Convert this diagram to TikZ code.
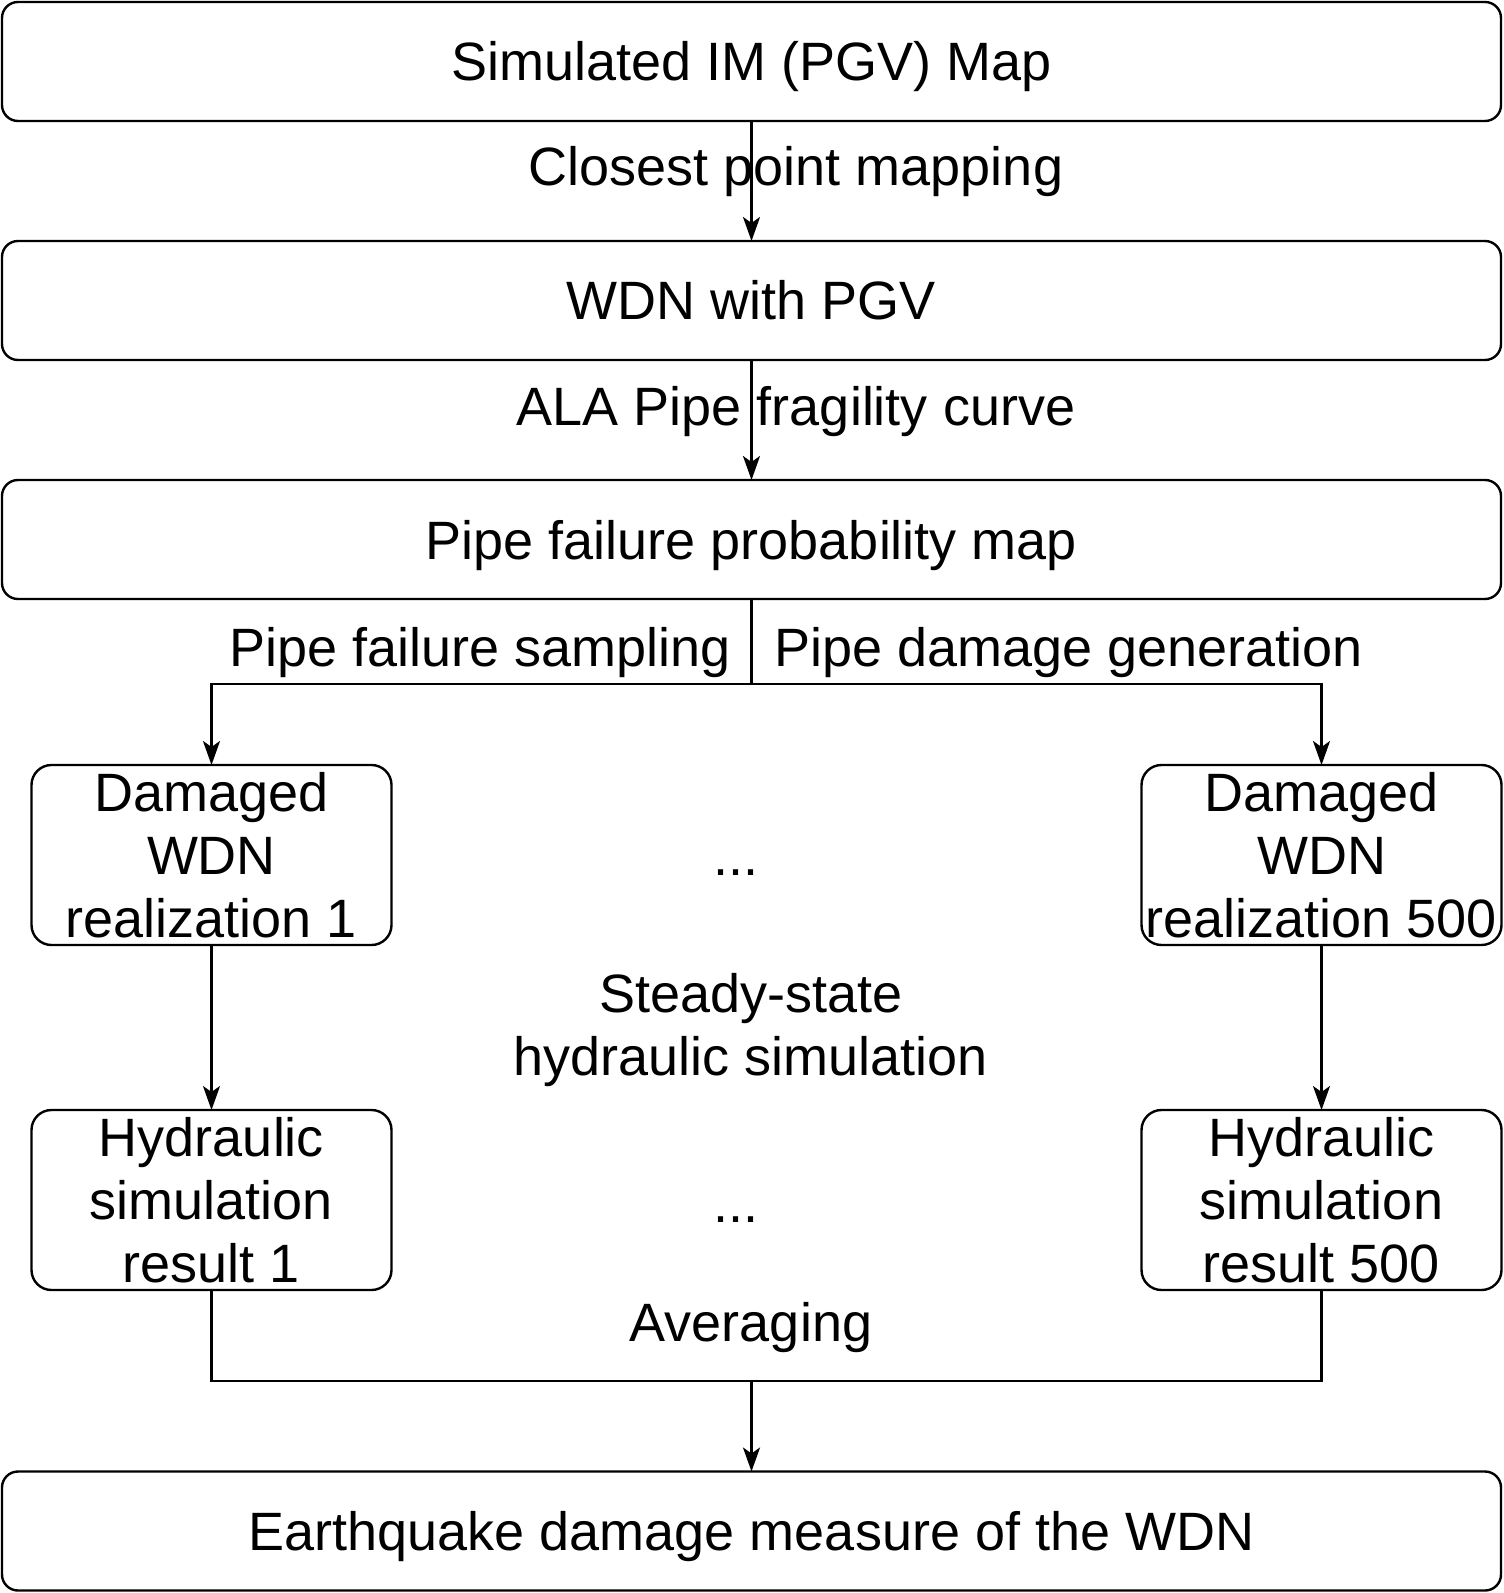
\documentclass[tikz,border=0pt]{standalone}
\usepackage{fontspec}
\setmainfont{Liberation Sans}
\usepackage{tikz}
\usetikzlibrary{arrows.meta, positioning}
\newcommand{\flowfont}{\fontsize{27}{31.5}\selectfont}
\tikzstyle{widebox} = [rectangle, rounded corners=8pt, minimum width=749.5pt, minimum height=59.5pt, outer sep=0pt, text height=19.5pt, text depth=0pt, text centered, draw=black, line width=1.2pt, font=\flowfont]
\tikzstyle{smallbox} = [rectangle, rounded corners=10pt, minimum width=180pt, minimum height=90pt, outer sep=0pt, inner sep=0pt, align=center, draw=black, line width=1.2pt, font=\flowfont]
\tikzstyle{edgetext} = [inner sep=0pt, align=center, font=\flowfont]
\tikzstyle{arrow} = [line width=1.2pt, -{Stealth[length=12pt, width=8.5pt, inset=3pt]}]
\tikzstyle{link} = [line width=1.2pt]

\begin{document}
\begin{tikzpicture}[x=0.5pt, y=-0.5pt, node distance=60pt]
    \useasboundingbox (0,0) rectangle (1503,1593);
    \node (immap) [widebox] at (751.5,61.5) {Simulated IM (PGV) Map};
    \node (wdnpgv) [widebox, below=of immap] {WDN with PGV};
    \node (failprob) [widebox, below=of wdnpgv] {Pipe failure probability map};
    \node (damage1) [smallbox, below=83pt of failprob, xshift=-270pt] {Damaged\\WDN\\realization 1};
    \node (damage500) [smallbox, below=83pt of failprob, xshift=285pt] {Damaged\\WDN\\realization 500};
    \node (result1) [smallbox, below=82.5pt of damage1] {Hydraulic\\simulation\\result 1};
    \node (result500) [smallbox, below=82.5pt of damage500] {Hydraulic\\simulation\\result 500};
    \node (final) [widebox] at (751.5,1531) {Earthquake damage measure of the WDN};

    \node (closest) [edgetext] at (796,172) {Closest point mapping};
    \node (fragility) [edgetext] at (796,412) {ALA Pipe fragility curve};
    \node (sampling) [edgetext, anchor=east] at (731,653) {Pipe failure sampling};
    \node (generation) [edgetext, anchor=west] at (774,653) {Pipe damage generation};
    \node (dotsA) [edgetext] at (736,873) {...};
    \node (steady) [edgetext] at (751,1030) {Steady-state\\hydraulic simulation};
    \node (dotsB) [edgetext] at (736,1220) {...};
    \node (averaging) [edgetext] at (751,1328) {Averaging};

    \coordinate (split) at (751.5,684);
    \coordinate (merge) at (751.5,1381);

    \draw [arrow] (immap) -- (wdnpgv);
    \draw [arrow] (wdnpgv) -- (failprob);
    \draw [arrow] (failprob.south) -- (split) -| (damage1.north);
    \draw [arrow] (split) -| (damage500.north);
    \draw [arrow] (damage1) -- (result1);
    \draw [arrow] (damage500) -- (result500);
    \draw [link] (result1.south) |- (merge);
    \draw [link] (result500.south) |- (merge);
    \draw [arrow] (merge) -- (final.north);
\end{tikzpicture}
\end{document}
